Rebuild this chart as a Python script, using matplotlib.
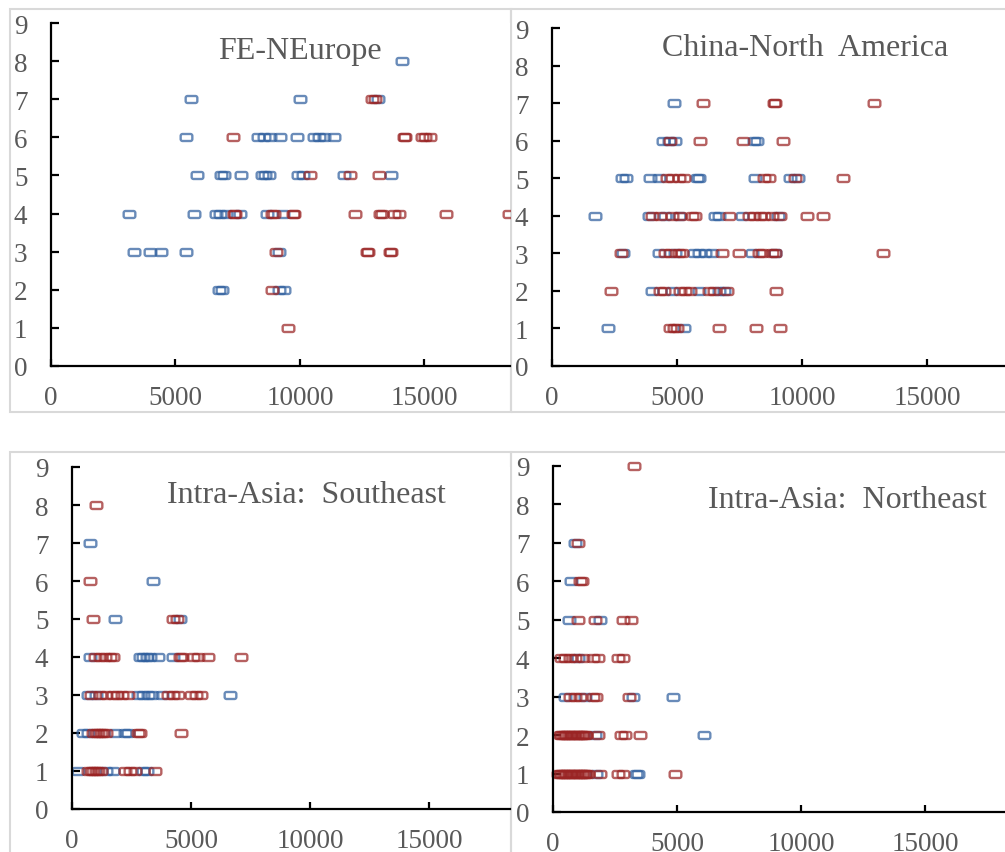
import numpy as np
import matplotlib
matplotlib.use("Agg")
import matplotlib.pyplot as plt
from matplotlib.path import Path
from matplotlib.patches import Rectangle

# x values per y level
# FE-NEurope
fe_blue = {8: [14100], 7: [5620, 9990, 13150],
           6: [5420, 8300, 8540, 8800, 9180, 9880, 10550, 10750, 10950, 11350],
           5: [5870, 6840, 6960, 7630, 8470, 8600, 8740, 9920, 10120, 11760, 13670],
           4: [3150, 5740, 6640, 6800, 7040, 7600, 8670, 9320],
           3: [3350, 3980, 4420, 5420, 9140],
           2: [6730, 6860, 9140, 9340]}
fe_red = {7: [12900, 13000],
          6: [7300, 14170, 14230, 14900, 15040, 15240],
          5: [10390, 12020, 13160],
          4: [7330, 7400, 8870, 8940, 9730, 9770, 12200, 13230, 13300, 13770, 13970, 15880, 18390],
          3: [9050, 12690, 12720, 13630, 13660],
          2: [8870], 1: [9520]}

# China-North America
cna_blue = {7: [4860], 6: [4420, 4660, 4930, 8060, 8190],
            5: [2800, 2960, 3930, 4260, 5790, 5860, 8120, 9520, 9850],
            4: [1700, 3860, 4530, 5060, 6500, 6660, 7590, 9050],
            3: [2820, 4260, 4930, 5660, 5860, 6130, 6390, 7990, 8920],
            2: [3990, 4790, 5860, 6660, 6860],
            1: [2240, 5260]}
cna_red = {7: [6020, 8870, 8920, 12890],
           6: [4730, 5930, 7620, 9230],
           5: [4590, 4790, 5060, 5260, 8460, 8660, 9720, 11620],
           4: [3990, 4330, 4790, 5130, 5590, 5730, 7080, 7860, 8060, 8320, 8460, 8790, 9120, 10190, 10850],
           3: [2770, 4530, 4730, 5060, 5190, 6790, 7480, 8260, 8390, 8790, 8920, 13240],
           2: [2370, 4330, 4460, 5130, 5330, 5530, 6260, 6460, 6990, 8960],
           1: [4730, 4860, 5000, 6660, 8160, 9120]}

# Intra-Asia: Southeast
sea_blue = {7: [770], 6: [3390], 5: [1820, 4530],
            4: [740, 2850, 2990, 3130, 3270, 3620, 4250],
            3: [670, 1020, 2780, 2990, 3200, 3340, 3760, 6630],
            2: [460, 670, 1800, 2220, 2360],
            1: [250, 1440, 1720, 2990, 3130]}
sea_red = {8: [1020], 6: [770], 5: [880, 4250, 4390],
           4: [950, 1160, 1370, 1580, 1720, 4530, 4600, 5090, 5300, 5720, 7120],
           3: [810, 1160, 1440, 1720, 1870, 2080, 2360, 4040, 4250, 4460, 5020, 5230, 5440],
           2: [880, 1000, 1090, 1200, 1300, 1440, 2780, 2850, 4570],
           1: [670, 800, 880, 990, 1090, 1230, 2220, 2430, 2640, 3480]}

# Intra-Asia: Northeast
nea_blue = {7: [900], 6: [740], 5: [630, 1880], 4: [1010],
            3: [470, 1280, 3230, 4820],
            2: [1680, 6080],
            1: [1750, 3360, 3430]}
nea_red = {9: [3260], 7: [1010], 6: [1080, 1170],
           5: [1010, 1680, 2830, 3140],
           4: [340, 470, 670, 870, 1210, 1620, 1820, 2620, 2830],
           3: [670, 870, 1080, 1620, 1750, 3060],
           2: [270, 330, 400, 470, 540, 600, 670, 740, 810, 880, 950, 1010, 1080,
               1150, 1210, 1280, 1350, 1820, 2760, 2920, 3500],
           1: [200, 270, 340, 400, 470, 540, 610, 670, 740, 810, 880, 950, 1010,
               1080, 1150, 1210, 1280, 1350, 1410, 1880, 2620, 2830, 4910]}

titles = ["FE-NEurope", "China-North  America", "Intra-Asia:  Southeast", "Intra-Asia:  Northeast"]
x_ticks = [0, 5000, 10000, 15000]
y_ticks = list(range(10))

BLUE = "#2f5f9e"
RED = "#9a2424"
GRAY = "#595959"
FONT = ["Liberation Serif", "DejaVu Serif"]


def rounded_box(w=1.0, h=0.6, r=0.32, n=8):
    # rounded rectangle outline for the marker
    pts = []
    for cx, cy, a0 in [(w - r, h - r, 0), (-w + r, h - r, 90),
                       (-w + r, -h + r, 180), (w - r, -h + r, 270)]:
        for a in np.linspace(a0, a0 + 90, n):
            t = np.radians(a)
            pts.append((cx + r * np.cos(t), cy + r * np.sin(t)))
    pts.append(pts[0])
    codes = [Path.MOVETO] + [Path.LINETO] * (len(pts) - 2) + [Path.CLOSEPOLY]
    return Path(pts, codes)


MARK = rounded_box()


def flatten(d):
    xs, ys = [], []
    for y, vals in d.items():
        xs += vals
        ys += [y] * len(vals)
    return xs, ys


fig = plt.figure(figsize=(10.05, 8.53), dpi=100)

W, H = 1005.0, 853.0
# (left px, right px, y0 px, y9 px, xmax, title centre px)
layout = [
    (51, 510, 367, 24, 18434, (300, 51), True),
    (552, 1005, 367, 29, 18120, (805, 48), False),
    (72, 510, 810, 468, 18400, (306, 496), False),
    (553, 1005, 813, 467, 18226, (847, 501), False),
]
series = [(fe_blue, fe_red), (cna_blue, cna_red), (sea_blue, sea_red), (nea_blue, nea_red)]

for (l, r, y0, y9, xmax, tpos, clip), (bl, rd), title in zip(layout, series, titles):
    ax = fig.add_axes([l / W, (H - y0) / H, (r - l) / W, (y0 - y9) / H])
    for d, c in [(bl, BLUE), (rd, RED)]:
        xs, ys = flatten(d)
        ax.plot(xs, ys, ls="none", marker=MARK, ms=8.4, mfc="none",
                mec=c, mew=1.7, alpha=0.72, clip_on=clip)
    ax.set_xlim(0, xmax)
    ax.set_ylim(0, 9)
    ax.set_xticks(x_ticks)
    ax.set_yticks(y_ticks)
    for s in ["top", "right"]:
        ax.spines[s].set_visible(False)
    for s in ["left", "bottom"]:
        ax.spines[s].set_linewidth(1.6)
    ax.tick_params(axis="y", direction="in", length=6, width=1.6, pad=17,
                   labelsize=19.5, labelcolor=GRAY)
    ax.tick_params(axis="x", direction="in", length=5, width=1.6, pad=14,
                   labelsize=19.5, labelcolor=GRAY)
    for lab in ax.get_xticklabels() + ax.get_yticklabels():
        lab.set_family(FONT)
    fig.text(tpos[0] / W, (H - tpos[1]) / H, title, ha="center", va="center",
             fontsize=23, color=GRAY, family=FONT)

# chart area borders
for x0, y0, x1, y1 in [(10, 10, 511, 413), (511, 10, 1020, 413),
                       (10, 453, 511, 870), (511, 453, 1020, 870)]:
    fig.add_artist(Rectangle((x0 / W, 1 - y1 / H), (x1 - x0) / W, (y1 - y0) / H,
                             transform=fig.transFigure, fill=False,
                             ec="#d9d9d9", lw=1.5, zorder=0))

fig.savefig("out.png", dpi=100)
